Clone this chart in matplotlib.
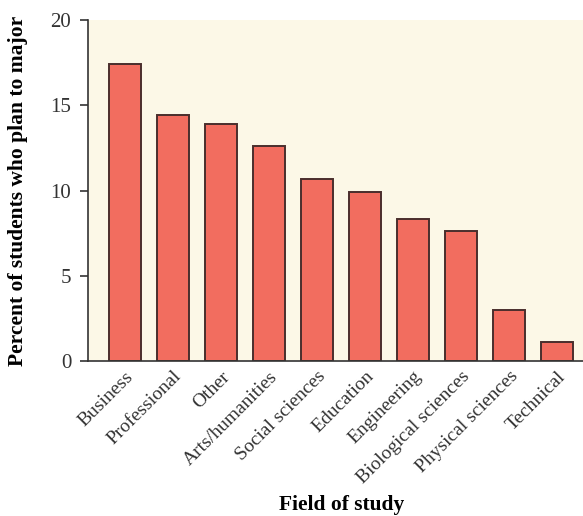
import matplotlib.pyplot as plt

fields = ['Business', 'Professional', 'Other', 'Arts/humanities', 'Social sciences',
          'Education', 'Engineering', 'Biological sciences', 'Physical sciences', 'Technical']
percents = [17.4, 14.4, 13.9, 12.6, 10.7, 9.9, 8.3, 7.6, 3.0, 1.1]
yticks = [0, 5, 10, 15, 20]

plt.rcParams['font.family'] = 'Liberation Serif'

fig = plt.figure(figsize=(5.83, 5.16), dpi=100)
ax = fig.add_axes([88 / 583, 1 - 361 / 516, (583 - 88) / 583, (361 - 20) / 516])
ax.set_facecolor('#FCF8E7')

x = range(len(fields))
ax.bar(x, percents, width=0.667, color='#F26D5F', edgecolor='#4A2E2C', linewidth=1.4, zorder=2)

ax.set_xlim(-0.77, 9.54)
ax.set_ylim(0, 20)
ax.set_yticks(yticks)
ax.set_yticklabels([str(t) for t in yticks], fontsize=15, color='#333333')
ax.set_xticks(list(x))
ax.set_xticklabels(fields, rotation=45, ha='right', rotation_mode='anchor', fontsize=14, color='#333333')
ax.tick_params(axis='x', length=0, pad=5)
ax.tick_params(axis='y', length=6, width=1.2, color='#333333', pad=6)

for s in ['top', 'right']:
    ax.spines[s].set_visible(False)
for s in ['left', 'bottom']:
    ax.spines[s].set_linewidth(1.2)
    ax.spines[s].set_color('#333333')

# y label sits close to the left edge in the reference
ax.set_ylabel('Percent of students who plan to major', fontsize=15.5, fontweight='bold', labelpad=16)
fig.text(342 / 583, 1 - 505 / 516, 'Field of study', fontsize=15.5, fontweight='bold', ha='center', va='center')

fig.savefig('out.png', dpi=100)
